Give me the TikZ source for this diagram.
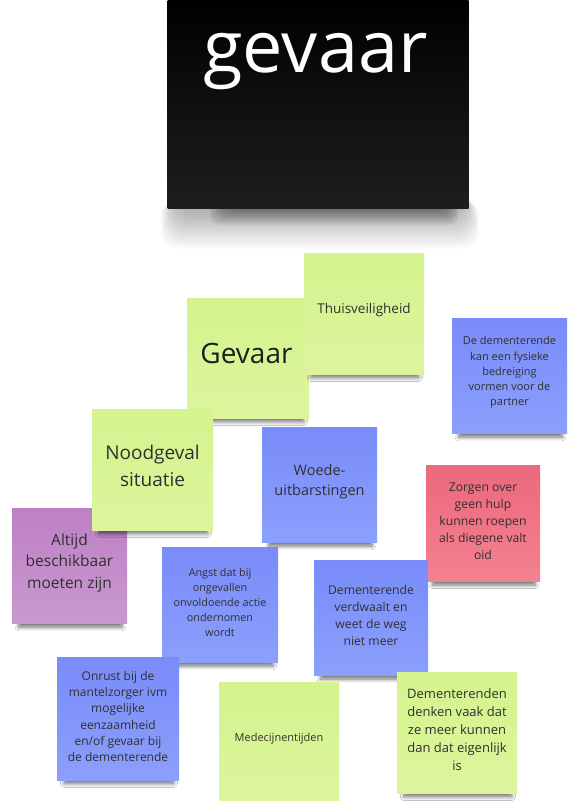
\documentclass[tikz,border=0pt]{standalone}
\usepackage{fontspec}
\setmainfont{Open Sans}
\usetikzlibrary{shadows.blur}
\definecolor{greenT}{RGB}{212,244,142}
\definecolor{greenB}{RGB}{220,245,157}
\definecolor{blueT}{RGB}{121,140,250}
\definecolor{blueB}{RGB}{139,159,252}
\definecolor{redT}{RGB}{237,104,124}
\definecolor{redB}{RGB}{243,130,144}
\definecolor{purpleT}{RGB}{189,128,196}
\definecolor{purpleB}{RGB}{201,152,207}
\definecolor{ink}{RGB}{48,48,48}
\tikzset{
  note/.style={rectangle, inner sep=0pt, draw=none,
    blur shadow={shadow xshift=1pt, shadow yshift=-11pt, shadow scale=0.9,
      shadow blur radius=4pt, shadow blur steps=8, shadow opacity=55}},
  greennote/.style={note, top color=greenT, bottom color=greenB},
  bluenote/.style={note, top color=blueT, bottom color=blueB},
  rednote/.style={note, top color=redT, bottom color=redB},
  purplenote/.style={note, top color=purpleT, bottom color=purpleB},
  txt/.style={inner sep=0pt, align=center, text=ink},
  halolayer/.style={fill=black, opacity=0.016, rounded corners=18pt},
  bandlayer/.style={fill=black, opacity=0.065, rounded corners=9pt},
}
\begin{document}
\begin{tikzpicture}[x=1pt, y=-1pt]
\useasboundingbox (0,0) rectangle (571,801);
\fill[white] (0,0) rectangle (571,801);

% shadow of the big black note
\foreach \i in {0,...,19}
  \fill[halolayer] (176-\i*0.8,188+\i*0.6) rectangle (464+\i*0.8,211+\i*2);
\foreach \i in {0,...,6}
  \fill[bandlayer] (228-\i*3,180) rectangle (446+\i*2,209+\i*2.6);

% big black note
\node[rectangle, inner sep=0pt, minimum width=301pt, minimum height=212pt,
  top color=black, middle color=black, bottom color={rgb,255:red,30;green,30;blue,30}]
  (titlenote) at (318,102) {};
\node[inner sep=0pt, anchor=base, text=white, font=\fontsize{72}{80}\selectfont]
  (titletext) at (315.5,72) {gevaar};

% Gevaar
\node[greennote, minimum width=122pt, minimum height=120pt] (gevaarnote) at (248,358) {};
\node[txt, text={rgb,255:red,30;green,30;blue,30}, font=\fontsize{28}{34}\selectfont] (gevaartext) at (246.5,353) {Gevaar};

% Thuisveiligheid
\node[greennote, minimum width=120pt, minimum height=121pt] (thuisnote) at (364,313.5) {};
\node[txt, font=\fontsize{13.5}{18}\selectfont] (thuistext) at (364,310) {Thuisveiligheid};

% De dementerende ... partner
\node[bluenote, minimum width=115pt, minimum height=115pt] (bedreignote) at (509.5,375.5) {};
\node[txt, font=\fontsize{11}{15.3}\selectfont] (bedreigtext) at (509.5,372.5)
  {De dementerende\\kan een fysieke\\bedreiging\\vormen voor de\\partner};

% Altijd beschikbaar
\node[purplenote, minimum width=115pt, minimum height=115pt] (altijdnote) at (69.5,565.5) {};
\node[txt, font=\fontsize{15.5}{21.5}\selectfont] (altijdtext) at (69.5,562.5)
  {Altijd\\beschikbaar\\moeten zijn};

% Noodgeval situatie
\node[greennote, minimum width=121pt, minimum height=121pt] (noodnote) at (152.5,469.5) {};
\node[txt, font=\fontsize{19}{27}\selectfont] (noodtext) at (152.5,465.5)
  {Noodgeval\\situatie};

% Woede-uitbarstingen
\node[bluenote, minimum width=115pt, minimum height=115pt] (woedenote) at (319.5,484.5) {};
\node[txt, font=\fontsize{14.5}{20}\selectfont] (woedetext) at (319.5,482)
  {Woede-\\uitbarstingen};

% Zorgen over geen hulp
\node[rednote, minimum width=114pt, minimum height=116pt] (zorgennote) at (483,523) {};
\node[txt, font=\fontsize{12.2}{17}\selectfont] (zorgentext) at (483,521)
  {Zorgen over\\geen hulp\\kunnen roepen\\als diegene valt\\oid};

% Angst
\node[bluenote, minimum width=116pt, minimum height=115pt] (angstnote) at (220,604.5) {};
\node[txt, font=\fontsize{10.8}{15}\selectfont] (angsttext) at (220,602)
  {Angst dat bij\\ongevallen\\onvoldoende actie\\ondernomen\\wordt};

% Dementerende verdwaalt
\node[bluenote, minimum width=114pt, minimum height=115pt] (verdwaalnote) at (371,617.5) {};
\node[txt, font=\fontsize{12.2}{17}\selectfont] (verdwaaltext) at (371,615.5)
  {Dementerende\\verdwaalt en\\weet de weg\\niet meer};

% Onrust
\node[bluenote, minimum width=122pt, minimum height=123pt] (onrustnote) at (118,718.5) {};
\node[txt, font=\fontsize{12}{16.3}\selectfont] (onrusttext) at (118,716.5)
  {Onrust bij de\\mantelzorger ivm\\mogelijke\\eenzaamheid\\en/of gevaar bij\\de dementerende};

% Medecijnentijden
\node[greennote, minimum width=120pt, minimum height=121pt] (medinote) at (279,742.5) {};
\node[txt, font=\fontsize{11}{15}\selectfont] (meditext) at (279,739) {Medecijnentijden};

% Dementerenden denken
\node[greennote, minimum width=120pt, minimum height=121pt] (denkennote) at (457,732.5) {};
\node[txt, font=\fontsize{13}{18}\selectfont] (denkentext) at (457,729.5)
  {Dementerenden\\denken vaak dat\\ze meer kunnen\\dan dat eigenlijk\\is};
\end{tikzpicture}
\end{document}
